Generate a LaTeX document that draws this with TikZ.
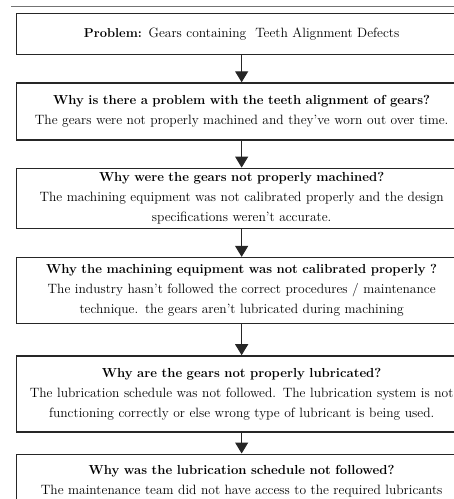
\documentclass[tikz,border=0pt]{standalone}
\usetikzlibrary{shapes,arrows.meta,positioning}
\newcommand{\whyq}[1]{{\fontsize{13.1}{20}\selectfont\bfseries #1}}
\newcommand{\wide}[1]{\makebox[0pt][c]{#1}}

\begin{document}
\begin{tikzpicture}[x=1pt,y=1pt,node distance=28pt]
    \tikzstyle{why}=[rectangle,draw=black!85,line width=1.3pt,minimum width=450pt,text width=444pt,align=center,inner sep=0pt,font=\fontsize{13.5}{20}\selectfont]
    \tikzstyle{link}=[draw=black!85,line width=1.1pt,-{Triangle[width=13pt,length=11pt]}]

    \useasboundingbox (0,0) rectangle (454,-499);
    \clip (0,0) rectangle (454,-499);
    \draw [black!55,line width=0.8pt] (11,-6) -- (454,-6);

    \node(p)  [why,minimum height=41pt,anchor=north west] at (16,-13)
        {{\fontsize{12.9}{20}\selectfont\bfseries Problem:} Gears containing\ \ Teeth Alignment Defects};
    \node(w1) [why,minimum height=57pt,below=27pt of p]
        {\whyq{Why is there a problem with the teeth alignment of gears?}\\
         The gears were not properly machined and they've worn out over time.};
    \node(w2) [why,minimum height=60pt,below=27pt of w1]
        {\whyq{Why were the gears not properly machined?}\\
         The machining equipment was not calibrated properly and the design\\
         specifications weren't accurate.};
    \node(w3) [why,minimum height=66pt,below=28pt of w2]
        {\whyq{Why the machining equipment was not calibrated properly ?}\\
         The industry hasn't followed the correct procedures / maintenance\\
         technique. the gears aren't lubricated during machining};
    \node(w4) [why,minimum height=76pt,below=31pt of w3]
        {\whyq{Why are the gears not properly lubricated?}\\
         \wide{The lubrication schedule was not followed. The lubrication system is not}\\
         functioning correctly or else wrong type of lubricant is being used.};
    \node(w5) [why,minimum height=54pt,below=21pt of w4]
        {\whyq{Why was the lubrication schedule not followed?}\\
         The maintenance team did not have access to the required lubricants};

    \draw [link] (p) -- (w1);
    \draw [link] (w1) -- (w2);
    \draw [link] (w2) -- (w3);
    \draw [link] (w3) -- (w4);
    \draw [link] (w4) -- (w5);

\end{tikzpicture}
\end{document}
